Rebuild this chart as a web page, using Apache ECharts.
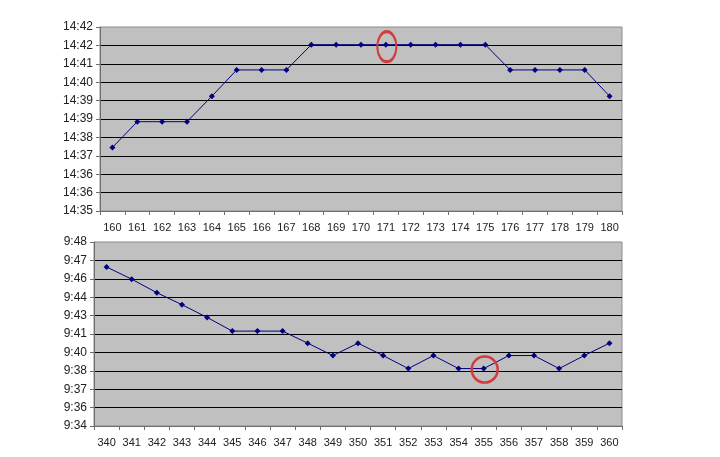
<!DOCTYPE html>
<html>
<head>
<meta charset="utf-8">
<script src="https://cdn.jsdelivr.net/npm/echarts@6/dist/echarts.min.js"></script>
<style>html,body{margin:0;padding:0;background:#fff}#c{width:720px;height:457px}</style>
</head>
<body>
<div id="c"></div>
<script>
// Top chart: categories and values (minutes after 14:00)
const TOP_CATS = ['160','161','162','163','164','165','166','167','168','169','170','171','172','173','174','175','176','177','178','179','180'];
const TOP_VALUES = [37.39, 38.44, 38.44, 38.44, 39.48, 40.55, 40.55, 40.55, 41.58, 41.58, 41.58, 41.58, 41.58, 41.58, 41.58, 41.58, 40.55, 40.55, 40.55, 40.55, 39.48];
const TOP_Y_LABELS = ['14:35','14:36','14:36','14:37','14:38','14:39','14:39','14:40','14:41','14:42','14:42'];
const TOP_Y_MIN = 34.8, TOP_Y_STEP = 0.75;
const TOP_HIGHLIGHT = '171';

// Bottom chart: categories and values (minutes after 9:00)
const BOT_CATS = ['340','341','342','343','344','345','346','347','348','349','350','351','352','353','354','355','356','357','358','359','360'];
const BOT_VALUES = [46.5, 45.57, 44.54, 43.63, 42.66, 41.62, 41.62, 41.62, 40.7, 39.76, 40.7, 39.76, 38.77, 39.76, 38.77, 38.77, 39.76, 39.76, 38.77, 39.76, 40.7];
const BOT_Y_LABELS = ['9:34','9:36','9:37','9:38','9:40','9:41','9:43','9:44','9:46','9:47','9:48'];
const BOT_Y_MIN = 34.4, BOT_Y_STEP = 1.4;
const BOT_HIGHLIGHT = '355';

const FONT = 'Liberation Sans, Arial, sans-serif';
const toTick = (v, min, step) => (v - min) / step;

function xAxis(idx, cats) {
  return {
    type: 'category', gridIndex: idx, data: cats, boundaryGap: true,
    axisLine: { show: true, lineStyle: { color: '#6e6e6e', width: 1 } },
    axisTick: { show: true, inside: false, length: 4, alignWithLabel: false, lineStyle: { color: '#6e6e6e' } },
    axisLabel: { color: '#222', fontFamily: FONT, fontSize: 11, margin: 11, interval: 0 },
    splitLine: { show: false }
  };
}
function yAxis(idx, labels) {
  return {
    type: 'value', gridIndex: idx, min: 0, max: labels.length - 1, interval: 1,
    axisLine: { show: true, lineStyle: { color: '#6e6e6e', width: 1 } },
    axisTick: { show: true, length: 4, lineStyle: { color: '#6e6e6e' } },
    axisLabel: { color: '#222', fontFamily: FONT, fontSize: 12, margin: 7,
      formatter: v => labels[Math.round(v)] },
    splitLine: { show: true, showMinLine: false, showMaxLine: false, lineStyle: { color: '#000', width: 1 } }
  };
}
function series(idx, cats, values, min, step, hl) {
  const data = values.map(v => toTick(v, min, step));
  const hi = cats.indexOf(hl);
  return {
    type: 'line', xAxisIndex: idx, yAxisIndex: idx, data: data,
    symbol: 'diamond', symbolSize: 6, showSymbol: true,
    lineStyle: { color: '#000080', width: 1 },
    itemStyle: { color: '#000080' },
    animation: false,
    markPoint: {
      silent: true,
      symbol: 'circle',
      symbolSize: idx === 0 ? [19, 30] : [26, 26],
      symbolOffset: idx === 0 ? [1, 2] : [1, 1],
      itemStyle: { color: 'rgba(0,0,0,0)', borderColor: '#d23c3c', borderWidth: 2.5 },
      label: { show: false },
      data: [{ coord: [hl, data[hi]] }]
    }
  };
}

const chart = echarts.init(document.getElementById('c'), null, { renderer: 'canvas' });
chart.setOption({
  backgroundColor: '#ffffff',
  animation: false,
  grid: [
    { left: 100, right: 98, top: 27, height: 184, show: true, backgroundColor: '#c0c0c0', borderColor: '#8c8c8c', borderWidth: 1 },
    { left: 94, right: 98, top: 242, height: 184, show: true, backgroundColor: '#c0c0c0', borderColor: '#8c8c8c', borderWidth: 1 }
  ],
  xAxis: [ xAxis(0, TOP_CATS), xAxis(1, BOT_CATS) ],
  yAxis: [ yAxis(0, TOP_Y_LABELS), yAxis(1, BOT_Y_LABELS) ],
  series: [
    series(0, TOP_CATS, TOP_VALUES, TOP_Y_MIN, TOP_Y_STEP, TOP_HIGHLIGHT),
    series(1, BOT_CATS, BOT_VALUES, BOT_Y_MIN, BOT_Y_STEP, BOT_HIGHLIGHT)
  ]
});
</script>
</body>
</html>
